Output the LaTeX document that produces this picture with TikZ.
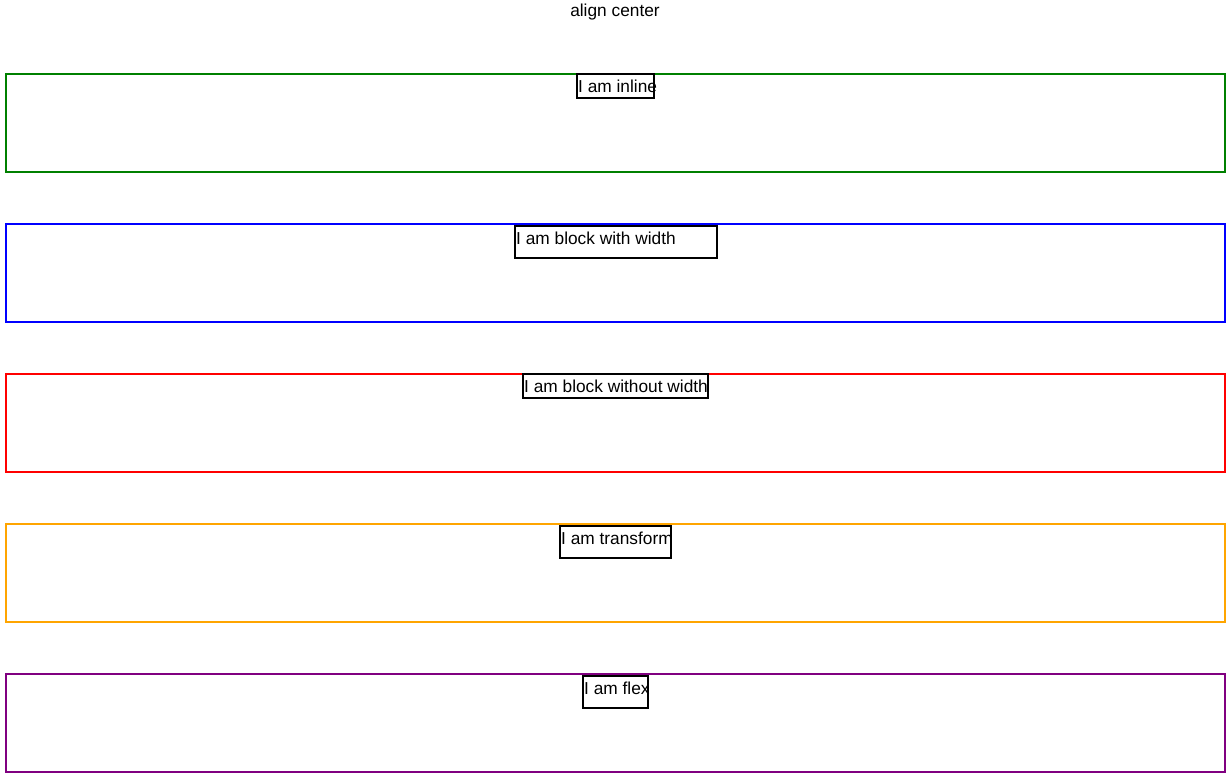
\documentclass[tikz,border=0pt]{standalone}
\usepackage{fontspec}
\setmainfont{Liberation Sans}
\definecolor{cssgreen}{HTML}{008000}
\definecolor{cssblue}{HTML}{0000FF}
\definecolor{cssred}{HTML}{FF0000}
\definecolor{cssorange}{HTML}{FFA500}
\definecolor{csspurple}{HTML}{800080}
\begin{document}
\begin{tikzpicture}[x=1pt,y=-1pt,
  outerbox/.style={draw=#1, line width=2pt, inner sep=0pt, outer sep=0pt,
    anchor=north west, minimum width=1219pt, minimum height=98pt},
  innerbox/.style={draw=black, line width=2pt, inner sep=0pt, outer sep=0pt,
    anchor=north west},
  label/.style={anchor=west, inner sep=0pt, font=\fontsize{17.3pt}{20pt}\selectfont},
]
\useasboundingbox (0,0) rectangle (1230,782);
\node[font=\fontsize{17.3pt}{20pt}\selectfont, inner sep=0pt] (title) at (615,12) {align center};

% containers
\node[outerbox=cssgreen]  (c1) at (6,74)  {};
\node[outerbox=cssblue]   (c2) at (6,224) {};
\node[outerbox=cssred]    (c3) at (6,374) {};
\node[outerbox=cssorange] (c4) at (6,524) {};
\node[outerbox=csspurple] (c5) at (6,674) {};

% centred children
\node[innerbox, minimum width=77pt,  minimum height=24pt] (b1) at (577,74)  {};
\node[innerbox, minimum width=202pt, minimum height=32pt] (b2) at (515,226) {};
\node[innerbox, minimum width=185pt, minimum height=24pt] (b3) at (523,374) {};
\node[innerbox, minimum width=111pt, minimum height=32pt] (b4) at (560,526) {};
\node[innerbox, minimum width=65pt,  minimum height=32pt] (b5) at (583,676) {};

\node[label] (t1) at (578,86)  {I am inline};
\node[label] (t2) at (516,238) {I am block with width};
\node[label] (t3) at (524,386) {I am block without width};
\node[label] (t4) at (561,538) {I am transform};
\node[label] (t5) at (584,688) {I am flex};
\end{tikzpicture}
\end{document}
